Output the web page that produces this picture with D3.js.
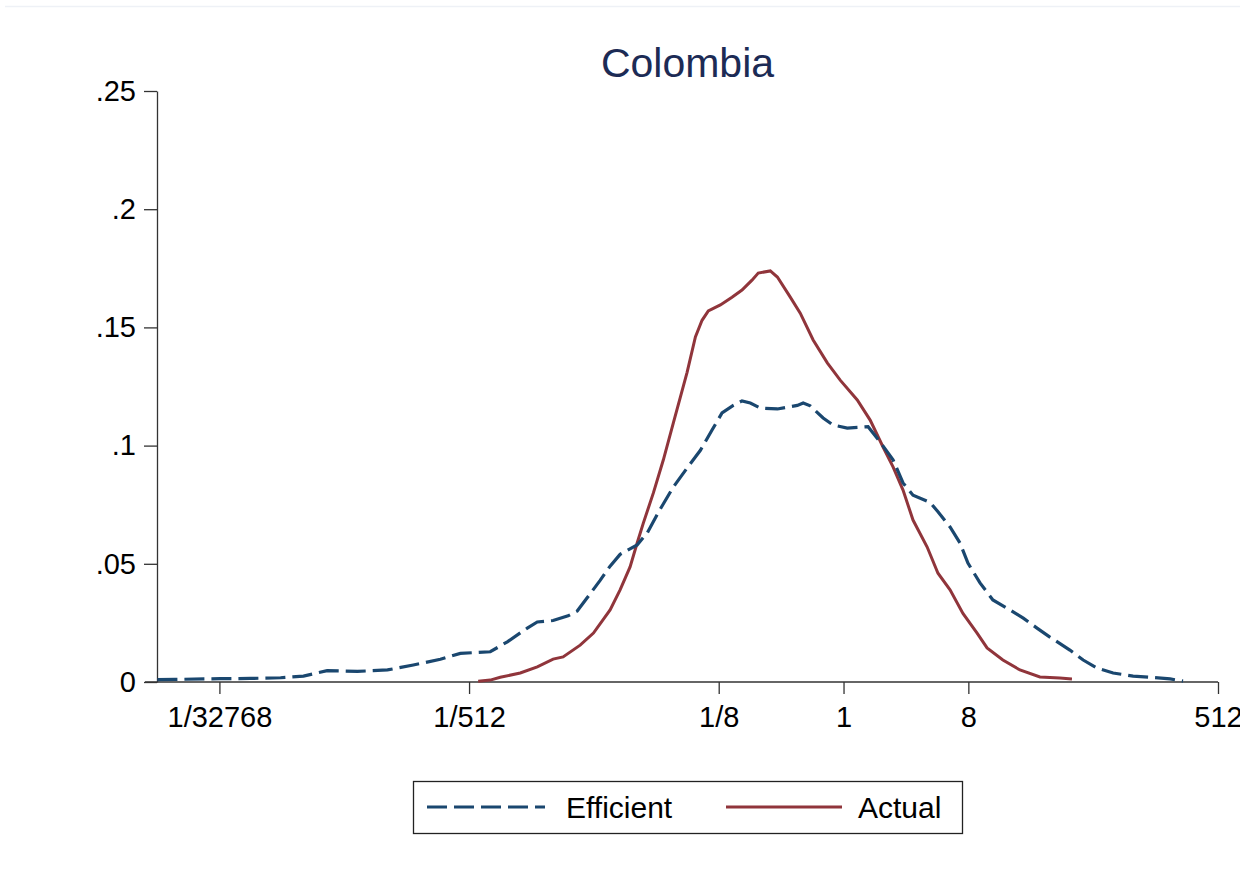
<!DOCTYPE html>
<html>
<head>
<meta charset="utf-8">
<script src="https://cdn.jsdelivr.net/npm/d3@7"></script>
<style>
  body { margin: 0; background: #fff; }
  svg { display: block; font-family: Arial, "Liberation Sans", sans-serif; }
  .axis text { fill: #000; }
</style>
</head>
<body>
<div id="chart"></div>
<script>
// x positions are log2 exponents of the value (so -3 means 1/8)
const effX = [-16.49, -16.06, -14.98, -14.26, -13.53, -12.98, -12.41, -11.68, -10.96, -10.34,
  -9.69, -9.21, -8.49, -8.08, -7.60, -7.36, -6.98, -6.62, -6.40, -5.85,
  -5.61, -5.37, -4.96, -4.72, -4.41, -4.09, -3.76, -3.44, -3.16, -2.92,
  -2.65, -2.44, -2.24, -2.00, -1.59, -1.11, -0.97, -0.80, -0.49, -0.25,
  0.09, 0.59, 0.88, 1.19, 1.43, 1.67, 2.08, 2.27, 2.56, 2.80,
  2.99, 3.28, 3.59, 4.00, 4.32, 4.65, 4.96, 5.44, 5.76, 6.09,
  6.48, 6.96, 7.37, 7.85, 8.16];
const effY = [0.0010, 0.0011, 0.0014, 0.0015, 0.0018, 0.0025, 0.0048, 0.0045, 0.0051, 0.0072,
  0.0096, 0.0121, 0.0128, 0.0170, 0.0228, 0.0254, 0.0260, 0.0280, 0.0300, 0.0430,
  0.0490, 0.0540, 0.0580, 0.0630, 0.0730, 0.0825, 0.0905, 0.0980, 0.1066, 0.1138,
  0.1170, 0.1189, 0.1180, 0.1159, 0.1155, 0.1170, 0.1180, 0.1168, 0.1117, 0.1087,
  0.1074, 0.1080, 0.1015, 0.0940, 0.0842, 0.0790, 0.0760, 0.0720, 0.0656, 0.0588,
  0.0503, 0.0419, 0.0347, 0.0305, 0.0270, 0.0228, 0.0190, 0.0135, 0.0093, 0.0059,
  0.0038, 0.0025, 0.0020, 0.0013, 0.0004];

const actX = [-8.78, -8.49, -8.25, -7.77, -7.36, -6.98, -6.74, -6.33, -6.01, -5.61,
  -5.37, -5.13, -4.96, -4.81, -4.57, -4.33, -4.09, -3.92, -3.76, -3.56,
  -3.40, -3.25, -2.96, -2.68, -2.44, -2.20, -2.05, -1.76, -1.59, -1.28,
  -1.04, -0.73, -0.39, -0.08, 0.33, 0.64, 0.95, 1.19, 1.43, 1.67,
  2.01, 2.27, 2.56, 2.87, 3.21, 3.45, 3.83, 4.24, 4.72, 5.20, 5.49];
const actY = [0.0003, 0.0008, 0.0020, 0.0038, 0.0064, 0.0097, 0.0106, 0.0156, 0.0207, 0.0305,
  0.0390, 0.0487, 0.0588, 0.0673, 0.0800, 0.0940, 0.1096, 0.1206, 0.1310, 0.1460,
  0.1530, 0.1570, 0.1595, 0.1628, 0.1658, 0.1700, 0.1730, 0.1739, 0.1713, 0.1628,
  0.1560, 0.1447, 0.1350, 0.1277, 0.1193, 0.1108, 0.0994, 0.0910, 0.0812, 0.0685,
  0.0571, 0.0460, 0.0390, 0.0290, 0.0207, 0.0144, 0.0093, 0.0051, 0.0021, 0.0017, 0.0013];

const xTicks = [-15, -9, -3, 0, 3, 9];
const xTickLabels = ["1/32768", "1/512", "1/8", "1", "8", "512"];
const yTicks = [0, 0.05, 0.1, 0.15, 0.2, 0.25];
const yTickLabels = ["0", ".05", ".1", ".15", ".2", ".25"];
const seriesNames = ["Efficient", "Actual"];
const title = "Colombia";

const W = 1240, H = 872;
const colors = {Efficient: "#1a476f", Actual: "#90353b"};

const svg = d3.select("#chart").append("svg")
    .attr("width", W)
    .attr("height", H);

// faint border line at the top of the screenshot
svg.append("line")
    .attr("x1", 5).attr("x2", W)
    .attr("y1", 6.5).attr("y2", 6.5)
    .attr("stroke", "#eef1f6")
    .attr("stroke-width", 1.5);

// log base 2 scale, domain from 2^-16.5 to 2^9
const x = d3.scaleLog().base(2)
    .domain([Math.pow(2, -16.5), Math.pow(2, 9)])
    .range([157, 1218]);

const y = d3.scaleLinear()
    .domain([0, 0.25])
    .range([682, 91]);

const xAxis = d3.axisBottom(x)
    .tickValues(xTicks.map(e => Math.pow(2, e)))
    .tickFormat((d, i) => xTickLabels[i])
    .tickSize(12)
    .tickPadding(12)
    .tickSizeOuter(0);

const yAxis = d3.axisLeft(y)
    .tickValues(yTicks)
    .tickFormat((d, i) => yTickLabels[i])
    .tickSize(13)
    .tickPadding(8)
    .tickSizeOuter(0);

const xg = svg.append("g")
    .attr("class", "axis x-axis")
    .attr("transform", `translate(0,${y(0)})`)
    .call(xAxis);
xg.select(".domain").remove();
xg.append("line")
    .attr("x1", 145).attr("x2", x(Math.pow(2, 9)))
    .attr("stroke", "#333").attr("stroke-width", 1.3);
xg.selectAll(".tick line").attr("stroke", "#333").attr("stroke-width", 1.3);
xg.selectAll(".tick text").attr("font-size", 29).attr("font-family", "Arial, 'Liberation Sans', sans-serif");

const yg = svg.append("g")
    .attr("class", "axis y-axis")
    .attr("transform", `translate(${x(Math.pow(2, -16.5))},0)`)
    .call(yAxis);
yg.select(".domain").attr("stroke", "#333").attr("stroke-width", 1.3);
yg.selectAll(".tick line").attr("stroke", "#333").attr("stroke-width", 1.3);
yg.selectAll(".tick text").attr("font-size", 29).attr("font-family", "Arial, 'Liberation Sans', sans-serif");

// title
svg.append("text")
    .attr("x", (157 + 1218) / 2)
    .attr("y", 77)
    .attr("text-anchor", "middle")
    .attr("font-size", 41)
    .attr("fill", "#1c2b55")
    .text(title);

const line = d3.line()
    .x(d => x(Math.pow(2, d[0])))
    .y(d => y(d[1]));

const effData = d3.zip(effX, effY);
const actData = d3.zip(actX, actY);

svg.append("path")
    .datum(actData)
    .attr("fill", "none")
    .attr("stroke", colors.Actual)
    .attr("stroke-width", 3)
    .attr("d", line);

svg.append("path")
    .datum(effData)
    .attr("fill", "none")
    .attr("stroke", colors.Efficient)
    .attr("stroke-width", 3.2)
    .attr("stroke-dasharray", "20 7")
    .attr("d", line);

// legend
const legend = svg.append("g").attr("class", "legend");
legend.append("rect")
    .attr("x", 413.5).attr("y", 781.5)
    .attr("width", 549).attr("height", 52)
    .attr("fill", "#fff")
    .attr("stroke", "#222")
    .attr("stroke-width", 1.3);

const legendItems = [
  {name: seriesNames[0], x1: 427, x2: 545, tx: 566, dash: "20 7"},
  {name: seriesNames[1], x1: 726, x2: 842, tx: 858, dash: null}
];
legendItems.forEach(it => {
  legend.append("line")
      .attr("x1", it.x1).attr("x2", it.x2)
      .attr("y1", 807).attr("y2", 807)
      .attr("stroke", colors[it.name])
      .attr("stroke-width", 3)
      .attr("stroke-dasharray", it.dash);
  legend.append("text")
      .attr("x", it.tx)
      .attr("y", 818)
      .attr("font-size", 30)
      .attr("fill", "#000")
      .text(it.name);
});
</script>
</body>
</html>
